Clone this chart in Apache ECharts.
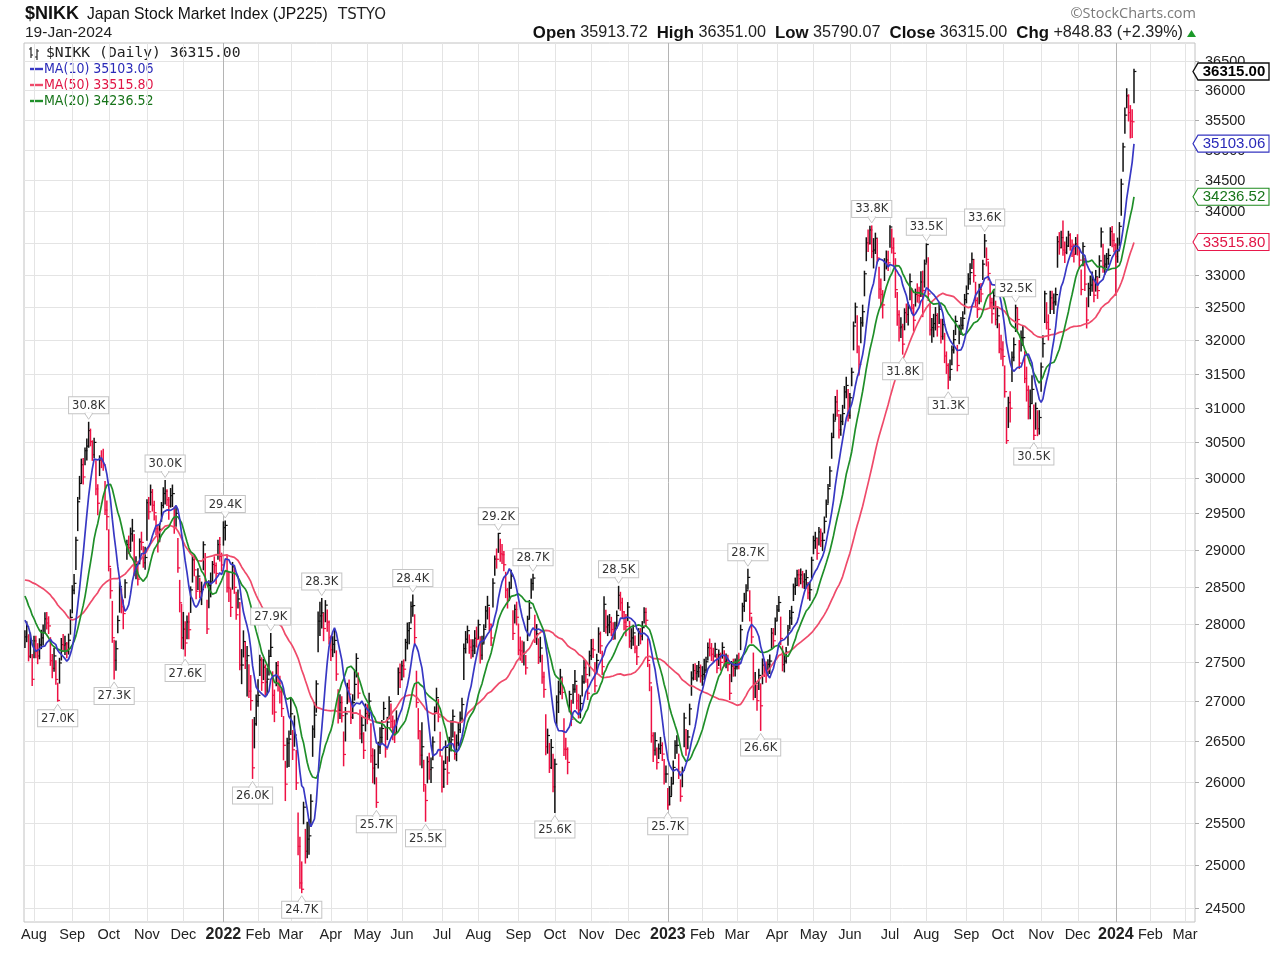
<!DOCTYPE html>
<html><head><meta charset="utf-8">
<script src="https://cdn.jsdelivr.net/npm/echarts@6/dist/echarts.min.js"></script>
<style>html,body{margin:0;padding:0;background:#fff}#c{width:1280px;height:953px}</style>
</head><body><div id="c"></div><script>
// ================= DATA (read/estimated from the reference) =================
// Daily closes, one row per week (Mon..Fri) starting 2021-07-26; null = market closed
const closeWeeks = [
[27833,27970,27581,27782,27283],[27781,27641,27584,27728,27820],[null,27888,28070,28015,27977],[27523,27424,27585,27281,27013],
[27494,27732,27724,27742,27641],[27789,28089,28451,28543,29128],[29660,29916,30181,30008,30381],[30447,30670,30511,30323,30500],
[null,29839,29639,null,30248],[30240,30183,29544,29452,28771],[28444,27822,27528,27678,28048],[28498,28230,28140,28550,29068],
[29025,29215,29255,28708,28804],[28600,29106,29098,28820,28892],[29647,29520,null,29794,29611],[29507,29285,29106,29277,29609],
[29776,29808,29688,29598,29745],[29774,null,29302,29499,28751],[28283,27821,27935,27753,28029],[27927,28455,28860,28725,28437],
[28640,28432,28459,29066,28545],[27937,28517,28562,28798,28782],[28676,29069,28906,28791,null],[null,29301,29332,28487,28479],
[null,28222,28765,28489,28124],[28334,27467,27467,27772,27522],[27588,27131,27011,26170,26717],[27001,27078,27533,27241,27439],
[27248,27284,27579,27696,null],[27079,26865,27460,27232,27122],[26910,26449,null,25970,26476],[26526,26844,26393,26577,25985],
[25221,24790,24717,25690,25163],[25307,25346,25762,26652,26827],[null,27224,28040,28110,28149],[27943,28252,28027,27821,27665],
[27736,27787,27350,26889,26985],[26821,26335,26843,27172,27093],[26800,26985,27218,27553,27105],[26591,26700,26386,26848,null],
[26819,null,null,null,27004],[26319,26167,26213,25748,26428],[26547,26659,26911,26402,26739],[27001,26748,26677,26604,26781],
[27369,27279,27457,27413,27761],[27915,27943,28234,28246,27824],[26987,26629,26326,26431,25963],[25771,26246,26149,26171,26491],
[26871,27049,26804,26393,25935],[26153,26423,26107,26490,26517],[26812,26336,26478,26643,26788],[null,26961,27680,27803,27915],
[27699,27655,27715,27815,27801],[27993,27594,27741,27932,28175],[28249,27999,27819,null,28546],[28871,28868,29222,28942,28930],
[28794,28452,28313,28479,28641],[27878,28195,28091,27661,27650],[27619,27626,27430,28065,28214],[28542,28614,27818,27875,27567],
[null,27688,27313,27153,null],[26431,26571,26173,26422,25937],[26215,26992,27120,27311,27116],[null,26401,26397,26237,27090],
[26775,27156,27257,27006,26891],[26974,27250,27431,27345,27105],[27587,27678,27663,null,27199],[27527,27872,27716,27446,28263],
[27963,27990,28028,27930,27899],[27944,28115,null,28383,28283],[28162,28027,27968,28226,27777],[27820,27885,27686,27574,27901],
[27842,27954,28156,28051,27527],[27237,26568,26387,26507,26235],[26405,26447,26340,26093,26094],[null,null,25716,25820,25973],
[null,26175,26446,26449,26119],[25822,26138,26791,26405,26553],[26906,27299,27395,27362,27382],[27433,27327,27346,27402,27509],
[27693,27685,27606,27584,27670],[27427,27602,27501,27696,27513],[27531,27473,27104,null,27453],[27423,27445,27516,27498,27927],
[28237,28309,28444,28623,28143],[27832,27222,27229,27010,27333],[26945,null,27466,27419,27385],[27476,27518,27883,27782,28041],
[28188,28287,27813,27472,27518],[27633,27923,28082,28156,28493],[28514,28658,28606,28657,28564],[28593,28620,28416,28457,28856],
[29123,29157,null,null,null],[28949,29242,29122,29126,29388],[29626,29842,30093,30573,30808],[31086,30957,30682,30801,30916],
[31233,31328,30888,31148,31524],[32217,32506,31913,31641,32265],[32434,33018,33502,33485,33706],[33370,33389,33575,33265,32781],
[32698,32538,33194,33234,33189],[33753,33422,33338,32773,32388],[32189,32203,31943,32419,32391],[null,32493,32896,32490,32304],
[32700,32682,32668,32891,32759],[33172,33476,32707,32159,32192],[32254,32377,32204,32473,null],[32059,32238,31766,31626,31450],
[31565,31856,32010,32287,31624],[32169,32227,32333,32619,32710],[32939,33036,33241,32991,32606],[32467,32776,32707,33168,33533],
[null,33242,33023,32571,32402],[32678,32315,32371,31872,31857],[31759,31237,30526,31075,30994],[null,31746,31936,32494,32315],
[31659,32040,32042,31430,31259],[31019,31062,31270,30601,30991],[30697,30859,31602,31950,null],[32709,32272,32166,32646,32568],
[32585,32696,33520,33424,33585],[33388,33354,33452,null,33625],[33447,33408,33321,33486,33431],[33231,32775,33445,32858,32307],
[32791,32843,32926,32686,32970],[32758,33219,33675,33140,33169],[33255,33305,33681,33540,33464],[null,null,null,33288,33377],
[null,33763,34441,35049,35577],[35901,35619,35477,35466,36315]
];
// Daily high above close, in tens of points (same week layout)
const highAboveTens = [
[8,6,28,10,32],[6,20,16,8,10],[0,10,8,14,12],[30,18,10,24,22],[6,8,14,10,12],[8,10,6,12,4],[6,10,8,26,4],[10,12,18,20,6],
[0,40,26,0,6],[14,22,40,22,50],[30,48,26,10,6],[6,24,18,4,6],[16,8,16,50,10],[22,4,14,22,14],[4,20,0,10,22],[16,18,22,8,4],
[8,15,14,12,10],[12,0,28,10,40],[30,44,22,28,8],[22,4,6,20,20],[10,18,10,4,40],[38,6,12,4,12],[14,6,26,16,0],[0,8,6,44,22],
[0,24,6,26,30],[12,82,20,14,24],[12,34,32,60,8],[8,20,6,32,10],[22,14,8,18,0],[30,28,4,28,20],[26,36,0,28,6],[10,20,24,24,40],
[40,54,32,6,26],[20,20,8,4,16],[0,4,12,18,19],[20,6,16,22,18],[10,14,30,26,10],[24,28,8,6,18],[20,10,18,6,26],[30,10,22,12,0],
[14,0,0,0,10],[40,24,18,30,6],[12,10,8,26,6],[6,22,14,16,10],[6,20,6,12,4],[10,8,6,14,30],[40,28,30,30,30],[18,6,20,12,6],
[6,12,22,22,38],[10,8,20,6,24],[8,28,10,8,8],[0,8,6,10,6],[16,14,8,10,16],[6,24,10,6,6],[12,22,18,0,6],[4,14,0,20,14],
[18,24,16,8,8],[30,6,20,34,18],[16,14,16,4,10],[6,5,30,12,24],[0,14,28,22,0],[40,8,30,10,40],[6,8,14,10,18],[0,38,14,18,4],
[24,6,14,20,20],[10,8,10,16,18],[6,12,14,0,30],[8,8,18,20,10],[22,12,10,16,12],[8,6,0,12,14],[18,14,16,6,26],[12,10,16,14,4],
[10,8,6,16,28],[24,62,22,10,18],[6,10,14,18,10],[0,0,20,12,8],[0,8,6,12,22],[20,4,6,24,8],[6,8,8,12,8],[8,14,10,14,6],
[6,12,14,10,8],[18,6,12,6,14],[8,12,24,0,6],[12,10,8,12,6],[4,10,8,11,30],[26,40,14,20,8],[28,0,8,12,12],[6,8,6,16,4],
[6,8,28,24,8],[6,6,10,8,4],[10,6,12,8,14],[8,10,14,10,4],[6,8,0,0,0],[20,6,16,10,6],[6,6,6,6,10],[8,30,22,10,12],
[8,12,38,6,6],[6,6,46,26,8],[10,4,8,22,6],[40,18,8,30,34],[24,22,6,14,18],[2,30,24,48,34],[26,14,30,6,16],[0,8,12,30,24],
[8,18,14,16,30],[6,1,56,40,14],[14,12,20,10,0],[26,8,34,20,20],[14,6,14,8,30],[6,12,10,8,12],[8,14,10,24,28],[18,8,16,6,10],
[0,18,18,32,24],[8,28,14,38,22],[22,38,48,8,24],[0,8,10,4,18],[34,10,18,40,34],[30,20,20,44,8],[26,10,6,12,0],[4,30,22,10,18],
[12,10,8,24,10],[46,16,14,0,6],[20,14,16,10,20],[18,30,6,40,34],[8,14,12,24,10],[20,8,6,34,14],[8,10,6,22,18],[0,0,0,20,20],
[0,6,8,6,12],[12,30,26,20,4]
];
// Daily low below close, in tens of points (same week layout)
const lowBelowTens = [
[14,20,6,22,8],[22,8,10,18,14],[0,16,18,8,10],[6,12,20,6,1],[26,20,8,14,8],[18,22,30,14,40],[40,22,26,10,20],[20,24,6,8,22],
[0,8,16,0,22],[10,8,6,18,6],[10,6,24,28,16],[34,8,20,20,20],[8,24,14,6,20],[8,30,10,6,16],[52,10,0,18,8],[10,8,14,16,22],
[20,18,8,18,16],[18,0,8,18,6],[12,14,26,17,22],[12,30,30,8,10],[18,8,20,34,6],[6,30,20,22,10],[14,20,6,8,0],[0,24,20,6,18],
[0,12,30,8,6],[12,6,24,20,10],[52,8,12,13,30],[30,14,20,10,16],[16,20,24,12,0],[24,12,26,10,14],[10,18,0,20,30],[34,26,12,14,8],
[10,6,4,20,14],[22,22,30,34,28],[0,36,40,26,20],[16,22,12,8,14],[16,16,8,16,20],[8,14,34,20,10],[8,20,20,24,6],[6,22,10,22,0],
[10,0,0,0,22],[8,18,24,6,26],[20,18,14,10,22],[22,8,16,12,18],[28,10,18,10,24],[24,20,22,14,8],[6,10,12,26,8],[25,26,12,18,22],
[24,20,6,8,6],[22,20,14,24,14],[26,6,22,20,18],[0,20,40,18,16],[8,10,14,20,10],[18,10,20,18,22],[18,8,10,0,32],[22,12,26,10,12],
[8,10,10,16,16],[8,18,10,6,12],[12,16,8,28,14],[20,16,6,14,8],[0,18,8,10,0],[10,22,6,26,6],[59,30,26,22,8],[0,8,12,14,22],
[8,18,14,10,10],[18,18,20,10,8],[26,14,10,0,8],[16,24,10,10,36],[8,14,14,8,10],[14,16,0,18,10],[8,10,12,18,8],[14,16,6,10,18],
[10,16,14,8,8],[10,8,14,18,8],[12,10,8,12,10],[0,0,5,10,14],[0,20,16,10,8],[6,20,36,8,14],[20,22,12,8,12],[12,8,14,12,14],
[16,10,8,8,10],[6,14,10,14,6],[10,8,8,0,20],[10,12,10,8,26],[20,14,14,16,10],[8,20,18,12,18],[31,0,24,10,14],[14,16,20,8,18],
[14,12,8,8,14],[14,20,14,16,18],[12,14,10,12,8],[12,14,8,14,24],[18,14,0,0,0],[8,18,8,14,16],[18,20,22,30,24],[26,8,12,20,16],
[24,18,8,30,20],[36,24,10,16,30],[22,34,28,12,22],[10,28,24,8,14],[20,20,28,14,12],[32,8,18,12,16],[20,16,15,26,12],[0,26,28,8,16],
[18,10,10,22,40],[36,28,10,8,22],[20,22,14,22,0],[10,22,10,12,17],[16,22,20,20,8],[22,14,16,22,14],[16,18,14,10,10],[12,22,12,24,26],
[0,10,10,8,14],[20,8,18,6,14],[14,8,4,36,20],[0,36,24,36,16],[8,20,12,6,16],[18,22,20,6,30],[10,24,36,20,0],[44,10,16,24,10],
[18,16,40,10,16],[8,16,12,0,18],[6,12,12,16,12],[12,8,30,10,12],[28,16,18,10,22],[12,26,24,10,16],[14,14,22,10,10],[0,0,0,60,18],
[0,30,50,40,30],[20,14,28,26,53]
];
// Closes before the first visible bar (used only to warm up the moving averages)
const warmupCloses = [27448,28084,27824,28406,28044,28098,28317,28364,28553,28642,28549,29149,28860,28814,28946,29058,28941,29019,
28963,28860,28958,28948,29161,29441,29291,29018,28964,28010,28884,28874,28875,29066,29048,28812,28791,28707,28783,28598,28643,28366,
28118,27940,28569,28718,28608,28279,28003,27652,27388,27548];
const firstWeekStart = [2021, 6, 26];           // 2021-07-26 (Mon)
const futureStart = [2024, 0, 22], futureEnd = [2024, 2, 8];
const futureHolidays = ['2024-02-12', '2024-02-23'];
const yTickValues = [24500,25000,25500,26000,26500,27000,27500,28000,28500,29000,29500,30000,
  30500,31000,31500,32000,32500,33000,33500,34000,34500,35000,35500,36000,36500];
const yMin = 24339, yMax = 36805;
const monthNames = ['Jan','Feb','Mar','Apr','May','Jun','Jul','Aug','Sep','Oct','Nov','Dec'];
// swing labels: [date, H = high / L = low]
const peakLabels = [
 ['2021-08-20','L'],['2021-09-14','H'],['2021-10-06','L'],['2021-11-16','H'],['2021-12-02','L'],['2022-01-05','H'],
 ['2022-01-27','L'],['2022-02-10','H'],['2022-03-09','L'],['2022-03-25','H'],['2022-05-12','L'],['2022-06-09','H'],
 ['2022-06-20','L'],['2022-08-17','H'],['2022-09-13','H'],['2022-10-03','L'],['2022-11-24','H'],['2023-01-04','L'],
 ['2023-03-09','H'],['2023-03-20','L'],['2023-06-19','H'],['2023-07-12','L'],['2023-08-01','H'],['2023-08-18','L'],
 ['2023-09-15','H'],['2023-10-12','H'],['2023-10-26','L']
];
const quoteOpen = 35913.72, quoteHigh = 36351.00, quoteLow = 35790.07, quoteClose = 36315.00;
const quoteChg = 848.83, quotePct = 2.39;
const maPeriods = [10, 50, 20];                 // legend order
const maLastValues = [35103.06, 33515.80, 34236.52];
const chartDate = '19-Jan-2024';

// ================= BUILD =================
const DAY = 86400000;
const fmt = t => new Date(t).toISOString().slice(0, 10);
const cats = [], C = [], H = [], L = [];
const fc = closeWeeks.flat(), fu = highAboveTens.flat(), fd = lowBelowTens.flat();
const t0 = Date.UTC(...firstWeekStart);
for (let k = 0; k < fc.length; k++) {
  if (fc[k] == null) continue;
  const t = t0 + (Math.floor(k / 5) * 7 + (k % 5)) * DAY;
  cats.push(fmt(t)); C.push(fc[k]); H.push(fc[k] + fu[k] * 10); L.push(fc[k] - fd[k] * 10);
}
const nHist = cats.length;
for (let t = Date.UTC(...futureStart); t <= Date.UTC(...futureEnd); t += DAY) {
  const wd = new Date(t).getUTCDay(), s = fmt(t);
  if (wd > 0 && wd < 6 && !futureHolidays.includes(s)) cats.push(s);
}
function movingAvg(n) {
  const all = warmupCloses.concat(C), out = [];
  for (let i = 0; i < C.length; i++) {
    const j = i + warmupCloses.length; let s = 0;
    for (let k = j - n + 1; k <= j; k++) s += all[k];
    out.push(+(s / n).toFixed(2));
  }
  return out;
}
const ma10 = movingAvg(10), ma20 = movingAvg(20), ma50 = movingAvg(50);
const barData = C.map((c, i) => {
  const prev = i === 0 ? warmupCloses[warmupCloses.length - 1] : C[i - 1];
  return [i, c, H[i], L[i], c >= prev ? 1 : 0];
});
const monthStarts = [];
for (let i = 1; i < cats.length; i++) if (cats[i].slice(5, 7) !== cats[i - 1].slice(5, 7)) monthStarts.push(i);
const monthSet = new Set(monthStarts);
const vGridData = monthStarts.map(i => [i, 30000, cats[i].slice(5, 7) === '01' ? 1 : 0]);
const hGridData = yTickValues.map(v => [0, v]);
const calloutData = peakLabels.map(([d, k]) => {
  const i = cats.indexOf(d);
  return k === 'H' ? [i, H[i], 1] : [i, L[i], 0];
});
const lastI = nHist - 1;
const tagData = [[lastI, quoteClose, 0], [lastI, maLastValues[0], 1], [lastI, maLastValues[2], 2], [lastI, maLastValues[1], 3]];
const tagTexts = [quoteClose.toFixed(2), maLastValues[0].toFixed(2), maLastValues[2].toFixed(2), maLastValues[1].toFixed(2)];

// ================= STYLE =================
const SANS = '"Liberation Sans", Arial, Helvetica, sans-serif';
const VERD = '"DejaVu Sans", Verdana, sans-serif';
const NARROW = '"DejaVu Sans Condensed", "Liberation Sans Narrow", "DejaVu Sans", sans-serif';
const MONO = '"DejaVu Sans Mono", monospace';
const UP = '#111111', DOWN = '#ee1144';
const C10 = '#3838c4', C20 = '#1f8f29', C50 = '#ef4a6a';
const TAG_STYLES = [
  {stroke: '#111', text: '#000', font: 'bold 15px ' + SANS, lw: 1.4},
  {stroke: '#3535c0', text: '#2828b8', font: '15px ' + SANS, lw: 1.1},
  {stroke: '#1e8a1e', text: '#17741a', font: '15px ' + SANS, lw: 1.1},
  {stroke: '#e8194b', text: '#e01545', font: '15px ' + SANS, lw: 1.1}
];

const chart = echarts.init(document.getElementById('c'), null, {renderer: 'canvas', width: 1280, height: 953});
const GRID = {left: 24, right: 85, top: 43, bottom: 31};

const option = {
  animation: false,
  backgroundColor: '#fff',
  grid: {left: GRID.left, right: GRID.right, top: GRID.top, bottom: GRID.bottom, show: true, borderColor: '#c2c2c2', borderWidth: 1, backgroundColor: '#fff'},
  xAxis: {
    type: 'category', data: cats, boundaryGap: true,
    axisLine: {show: false}, axisTick: {show: false}, splitLine: {show: false},
    axisLabel: {
      interval: (idx) => monthSet.has(idx),
      formatter: (v) => { const m = +v.slice(5, 7); return m === 1 ? '{yr|' + v.slice(0, 4) + '}' : monthNames[m - 1]; },
      color: '#222', fontSize: 14.5, fontFamily: SANS, margin: 5,
      rich: {yr: {fontWeight: 'bold', fontSize: 16, color: '#222', fontFamily: SANS}}
    }
  },
  yAxis: {
    type: 'log', logBase: 10, min: yMin, max: yMax, position: 'right',
    axisLine: {show: false}, axisTick: {show: false}, axisLabel: {show: false}, splitLine: {show: false}
  },
  series: [
    { // horizontal grid + right labels
      type: 'custom', z: 1, silent: true, data: hGridData, encode: {x: 0, y: 1},
      renderItem(params, api) {
        const cs = params.coordSys, v = api.value(1);
        const y = Math.round(api.coord([0, v])[1]) + 0.5;
        const xr = cs.x + cs.width;
        return {type: 'group', children: [
          {type: 'line', shape: {x1: cs.x, y1: y, x2: xr, y2: y}, style: {stroke: '#e4e4e4', lineWidth: 1}},
          {type: 'line', shape: {x1: xr, y1: y, x2: xr + 4, y2: y}, style: {stroke: '#aaa', lineWidth: 1}},
          {type: 'text', style: {text: String(v), x: xr + 10, y: y, align: 'left', verticalAlign: 'middle', fill: '#222', font: '14.5px ' + SANS}}
        ]};
      }
    },
    { // vertical month grid lines
      type: 'custom', z: 1, silent: true, data: vGridData, encode: {x: 0, y: 1},
      renderItem(params, api) {
        const cs = params.coordSys;
        const x = Math.round(api.coord([api.value(0), api.value(1)])[0]) + 0.5;
        return {type: 'line', shape: {x1: x, y1: cs.y, x2: x, y2: cs.y + cs.height},
          style: {stroke: api.value(2) ? '#b4b4b4' : '#e4e4e4', lineWidth: 1}};
      }
    },
    { // OHLC bars
      type: 'custom', z: 3, silent: true, data: barData, encode: {x: 0, y: [1, 2, 3]},
      renderItem(params, api) {
        const i = api.value(0);
        const c = api.coord([i, api.value(1)]), hi = api.coord([i, api.value(2)]), lo = api.coord([i, api.value(3)]);
        const col = api.value(4) ? UP : DOWN;
        const x = c[0];
        return {type: 'group', children: [
          {type: 'line', shape: {x1: x, y1: hi[1] - 0.5, x2: x, y2: lo[1] + 0.5}, style: {stroke: col, lineWidth: 1.5}},
          {type: 'line', shape: {x1: x, y1: c[1], x2: x + 2.4, y2: c[1]}, style: {stroke: col, lineWidth: 1.2}}
        ]};
      }
    },
    {name: 'MA(50)', type: 'line', z: 4, data: ma50, showSymbol: false, symbol: 'none', silent: true, lineStyle: {color: C50, width: 1.7}},
    {name: 'MA(20)', type: 'line', z: 4, data: ma20, showSymbol: false, symbol: 'none', silent: true, lineStyle: {color: C20, width: 1.7}},
    {name: 'MA(10)', type: 'line', z: 4, data: ma10, showSymbol: false, symbol: 'none', silent: true, lineStyle: {color: C10, width: 1.7}},
    { // swing callouts
      type: 'custom', z: 6, silent: true, data: calloutData, encode: {x: 0, y: 1},
      renderItem(params, api) {
        const p = api.coord([api.value(0), api.value(1)]);
        const isHigh = api.value(2) === 1;
        const txt = (api.value(1) / 1000).toFixed(1) + 'K';
        const x = p[0], y = p[1];
        const gap = 9, tip = 3;
        const by = isHigh ? y - gap : y + gap;
        const ty = isHigh ? y - tip : y + tip;
        return {type: 'group', children: [
          {type: 'text', style: {text: txt, x: x, y: by, align: 'center', verticalAlign: isHigh ? 'bottom' : 'top',
            fill: '#333', font: '11.5px ' + VERD, backgroundColor: '#fff', borderColor: '#c4c4c4', borderWidth: 1,
            padding: [2, 3, 1, 3], lineHeight: 13}},
          {type: 'polygon', shape: {points: [[x - 4, by], [x + 4, by], [x, ty]]}, style: {fill: '#fff', stroke: '#c4c4c4', lineWidth: 1}},
          {type: 'line', shape: {x1: x - 3, y1: by, x2: x + 3, y2: by}, style: {stroke: '#fff', lineWidth: 1.6}}
        ]};
      }
    },
    { // right-edge value tags
      type: 'custom', z: 10, silent: true, data: tagData, encode: {x: 0, y: 1},
      renderItem(params, api) {
        const cs = params.coordSys;
        const y = api.coord([api.value(0), api.value(1)])[1];
        const k = api.value(2), st = TAG_STYLES[k];
        const x0 = cs.x + cs.width - 2;
        const pts = [[x0, y], [x0 + 5, y - 8.5], [x0 + 76, y - 8.5], [x0 + 76, y + 8.5], [x0 + 5, y + 8.5]];
        return {type: 'group', children: [
          {type: 'polygon', shape: {points: pts}, style: {fill: '#fff', stroke: st.stroke, lineWidth: st.lw}},
          {type: 'text', style: {text: tagTexts[k], x: x0 + 41, y: y + 0.5, align: 'center', verticalAlign: 'middle', fill: st.text, font: st.font}}
        ]};
      }
    }
  ],
  graphic: [
    {type: 'text', x: 25, y: 14, style: {text: '$NIKK', font: 'bold 18px ' + SANS, fill: '#111', verticalAlign: 'middle'}},
    {type: 'text', x: 87, y: 15, style: {text: 'Japan Stock Market Index (JP225)', font: '15.7px ' + SANS, fill: '#111', verticalAlign: 'middle'}},
    {type: 'text', x: 338, y: 15, style: {text: 'TSTYO', font: '15px ' + VERD, fill: '#222', verticalAlign: 'middle'}},
    {type: 'text', x: 25, y: 33, style: {text: chartDate, font: '15.5px ' + SANS, fill: '#222', verticalAlign: 'middle'}},
    {type: 'text', x: 1196, y: 14, style: {text: '\u00A9StockCharts.com', font: '14.5px "Open Sans", ' + SANS, fill: '#7a7a7a', align: 'right', verticalAlign: 'middle'}},
    {type: 'text', x: 1183, y: 33, style: {
      text: '{b|Open} ' + quoteOpen.toFixed(2) + '  {b|High} ' + quoteHigh.toFixed(2) + '  {b|Low} ' + quoteLow.toFixed(2) +
            '  {b|Close} ' + quoteClose.toFixed(2) + '  {b|Chg} +' + quoteChg.toFixed(2) + ' (+' + quotePct.toFixed(2) + '%)',
      font: '16.2px ' + SANS, fill: '#222', align: 'right', verticalAlign: 'middle',
      rich: {b: {font: 'bold 16.8px ' + SANS, fill: '#111'}}}},
    {type: 'polygon', shape: {points: [[1187, 37], [1196, 37], [1191.5, 30]]}, style: {fill: '#1c9a2a'}},
    // legend
    {type: 'line', shape: {x1: 31, y1: 47, x2: 31, y2: 58}, style: {stroke: '#222', lineWidth: 1.2}},
    {type: 'line', shape: {x1: 29, y1: 49, x2: 31, y2: 49}, style: {stroke: '#222', lineWidth: 1.2}},
    {type: 'line', shape: {x1: 31, y1: 55, x2: 33, y2: 55}, style: {stroke: '#222', lineWidth: 1.2}},
    {type: 'line', shape: {x1: 37, y1: 49, x2: 37, y2: 60}, style: {stroke: '#222', lineWidth: 1.2}},
    {type: 'line', shape: {x1: 35, y1: 57, x2: 37, y2: 57}, style: {stroke: '#222', lineWidth: 1.2}},
    {type: 'line', shape: {x1: 37, y1: 51, x2: 39, y2: 51}, style: {stroke: '#222', lineWidth: 1.2}},
    {type: 'text', x: 46, y: 53, style: {text: '$NIKK (Daily) ' + quoteClose.toFixed(2), font: '14.7px ' + MONO, fill: '#222', verticalAlign: 'middle'}},
    ...maPeriods.map((p, k) => {
      const col = [C10, C50, C20][k], tcol = ['#2a2ab8', '#e01545', '#17741a'][k];
      return [
        {type: 'line', shape: {x1: 30, y1: 69 + 16 * k, x2: 43, y2: 69 + 16 * k}, style: {stroke: col, lineWidth: 2.4}},
        {type: 'text', x: 44, y: 69.5 + 16 * k, style: {text: 'MA(' + p + ') ' + maLastValues[k].toFixed(2), font: '14px ' + NARROW, fill: tcol, verticalAlign: 'middle'}}
      ];
    }).flat()
  ]
};
chart.setOption(option);
</script></body></html>
